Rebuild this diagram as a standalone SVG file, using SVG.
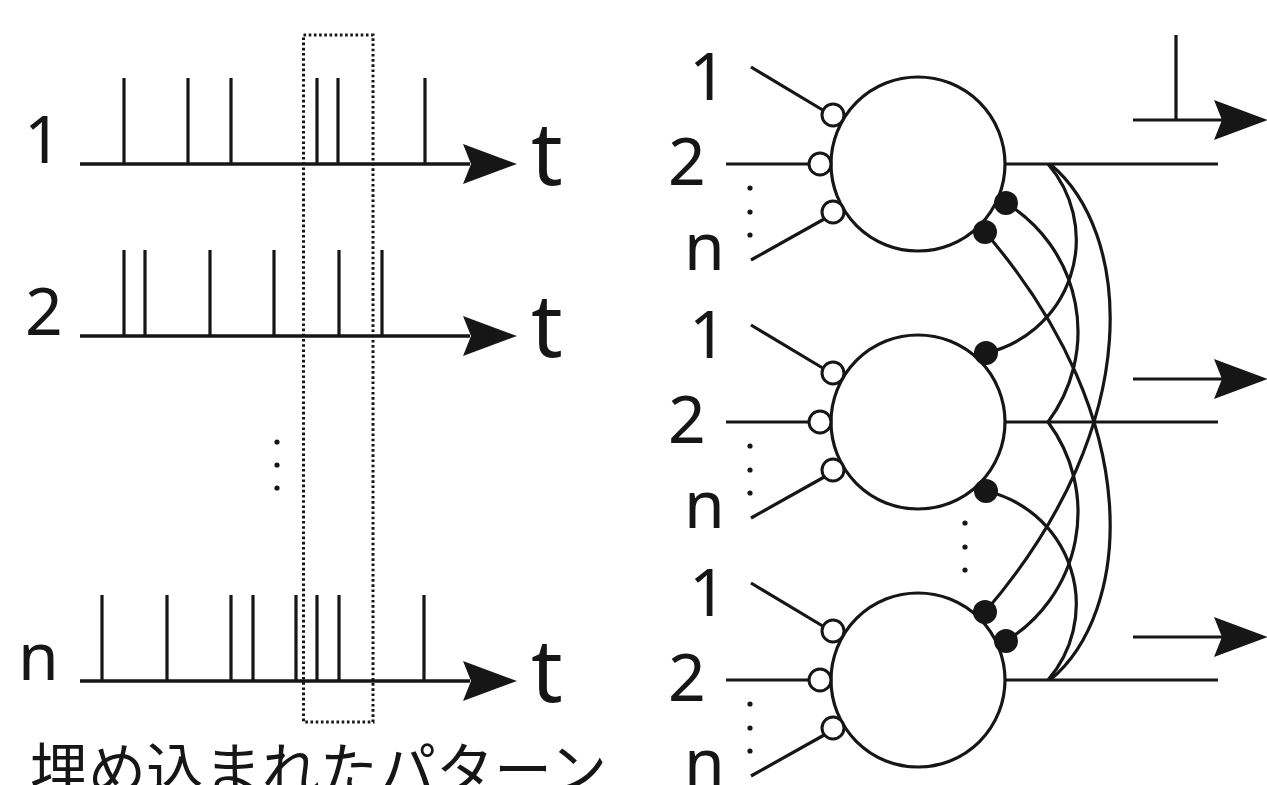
<svg xmlns="http://www.w3.org/2000/svg" width="1267" height="785" viewBox="0 0 1267 785">
<style>
.ln{stroke:#161616;stroke-width:3.2;fill:none;stroke-linecap:butt}
.ax{stroke:#161616;stroke-width:3.6;fill:none}
.ah{fill:#161616;stroke:none}
.lbl{font-family:'Noto Sans','Open Sans',sans-serif;font-size:66px;fill:#161616}
.tt{font-family:'Noto Sans','DejaVu Sans',sans-serif;font-size:88px;fill:#161616}
.jp{font-family:'Noto Sans CJK JP','Noto Sans CJK SC',sans-serif;font-size:58px;fill:#161616}
.soma{fill:#fff;stroke:#161616;stroke-width:3.2}
.syn{fill:#fff;stroke:#161616;stroke-width:3}
.inh{fill:#161616;stroke:none}
.dot{fill:#161616}
.box{fill:none;stroke:#161616;stroke-width:3;stroke-dasharray:2.6 2.6}
</style>
<defs>
<polygon id="arrowhead" points="0,-20 54,0 0,20 8,0"/>
</defs>
<rect width="1267" height="785" fill="#fff"/>

<!-- Left: spike trains -->
<g id="train1">
  <text class="lbl" x="24" y="163">1</text>
  <line class="ax" x1="80" y1="164" x2="470" y2="164"/>
  <use href="#arrowhead" class="ah" x="463" y="164"/>
  <path class="ln" d="M124,78V164M188,78V164M231,78V164M317,78V164M338,78V164M425,78V164"/>
  <text class="tt" x="531" y="185">t</text>
</g>
<g id="train2">
  <text class="lbl" x="25" y="335">2</text>
  <line class="ax" x1="80" y1="336" x2="470" y2="336"/>
  <use href="#arrowhead" class="ah" x="463" y="336"/>
  <path class="ln" d="M124,250V336M145,250V336M210,250V336M274,250V336M339,250V336M382,250V336"/>
  <text class="tt" x="531" y="357">t</text>
</g>
<g id="train-dots">
  <circle class="dot" cx="277" cy="442" r="2.6"/>
  <circle class="dot" cx="277" cy="465" r="2.6"/>
  <circle class="dot" cx="277" cy="488" r="2.6"/>
</g>
<g id="trainn">
  <text class="lbl" x="18" y="680">n</text>
  <line class="ax" x1="80" y1="681" x2="470" y2="681"/>
  <use href="#arrowhead" class="ah" x="463" y="681"/>
  <path class="ln" d="M102,595V681M167,595V681M231,595V681M253,595V681M296,595V681M317,595V681M339,595V681M424,595V681"/>
  <text class="tt" x="531" y="702">t</text>
</g>
<g id="pattern-box">
  <rect class="box" x="303.5" y="35" width="69.5" height="687"/>
  <text class="jp" x="30" y="791">埋め込まれたパターン</text>
</g>

<!-- Connectors (recurrent inhibitory links) -->
<g id="connectors" class="ln">
  <path d="M1048,164 A116,116 0 0 1 986,353"/>
  <path d="M1048,680 A116,116 0 0 0 986,491"/>
  <path d="M1048,422 A151,151 0 0 0 1006,203"/>
  <path d="M1048,422 A151,151 0 0 1 1006,641"/>
  <path d="M1050,680 C1130,614 1150,424 985,232"/>
  <path d="M1050,164 C1130,230 1150,420 985,612"/>
</g>

<!-- Neuron 1 -->
<g id="neuron1">
  <text class="lbl" x="689" y="100">1</text>
  <text class="lbl" x="668" y="185">2</text>
  <text class="lbl" x="684" y="270">n</text>
  <circle class="dot" cx="750" cy="188" r="2.6"/>
  <circle class="dot" cx="750" cy="212" r="2.6"/>
  <circle class="dot" cx="750" cy="235" r="2.6"/>
  <path class="ln" d="M751,67L826,112M726,164H810M751,260L826,218M1004,164H1218"/>
  <circle class="soma" cx="918" cy="164" r="87"/>
  <circle class="syn" cx="833" cy="115" r="11"/>
  <circle class="syn" cx="820" cy="164" r="11"/>
  <circle class="syn" cx="833" cy="212" r="11"/>
  <circle class="inh" cx="1006" cy="203" r="12"/>
  <circle class="inh" cx="985" cy="232" r="12"/>
  <path class="ln" d="M1133,120H1222M1176,35V120"/>
  <use href="#arrowhead" class="ah" x="1214" y="120"/>
</g>

<!-- Neuron 2 -->
<g id="neuron2">
  <text class="lbl" x="689" y="358">1</text>
  <text class="lbl" x="668" y="443">2</text>
  <text class="lbl" x="684" y="528">n</text>
  <circle class="dot" cx="750" cy="446" r="2.6"/>
  <circle class="dot" cx="750" cy="470" r="2.6"/>
  <circle class="dot" cx="750" cy="493" r="2.6"/>
  <path class="ln" d="M751,325L826,370M726,422H810M751,518L826,476M1004,422H1218"/>
  <circle class="soma" cx="918" cy="422" r="87"/>
  <circle class="syn" cx="833" cy="373" r="11"/>
  <circle class="syn" cx="820" cy="422" r="11"/>
  <circle class="syn" cx="833" cy="470" r="11"/>
  <circle class="inh" cx="986" cy="353" r="12"/>
  <circle class="inh" cx="986" cy="491" r="12"/>
  <path class="ln" d="M1133,379H1222"/>
  <use href="#arrowhead" class="ah" x="1214" y="379"/>
</g>

<g id="neuron-dots">
  <circle class="dot" cx="965" cy="523" r="2.6"/>
  <circle class="dot" cx="965" cy="547" r="2.6"/>
  <circle class="dot" cx="965" cy="570" r="2.6"/>
</g>

<!-- Neuron n -->
<g id="neuron3">
  <text class="lbl" x="689" y="616">1</text>
  <text class="lbl" x="668" y="701">2</text>
  <text class="lbl" x="684" y="786">n</text>
  <circle class="dot" cx="750" cy="704" r="2.6"/>
  <circle class="dot" cx="750" cy="728" r="2.6"/>
  <circle class="dot" cx="750" cy="751" r="2.6"/>
  <path class="ln" d="M751,583L826,628M726,680H810M751,776L826,734M1004,680H1218"/>
  <circle class="soma" cx="918" cy="680" r="87"/>
  <circle class="syn" cx="833" cy="631" r="11"/>
  <circle class="syn" cx="820" cy="680" r="11"/>
  <circle class="syn" cx="833" cy="728" r="11"/>
  <circle class="inh" cx="985" cy="612" r="12"/>
  <circle class="inh" cx="1006" cy="641" r="12"/>
  <path class="ln" d="M1133,637H1222"/>
  <use href="#arrowhead" class="ah" x="1214" y="637"/>
</g>
</svg>
